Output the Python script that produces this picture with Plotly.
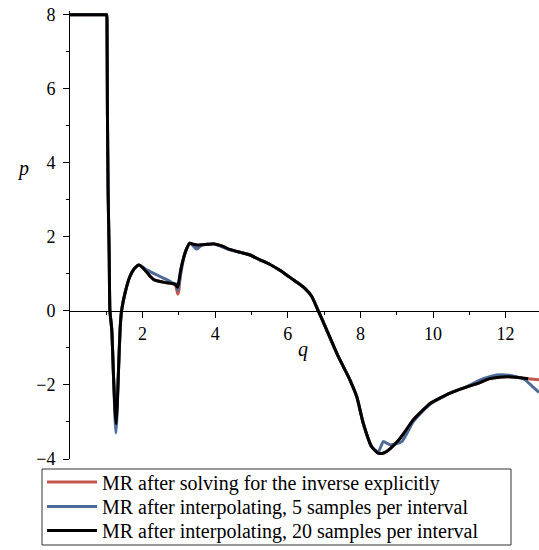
import plotly.graph_objects as go

# Marginal revenue curves p(q) computed three ways
q_explicit = [0, 0.5, 0.98, 1.01, 1.02, 1.03, 1.05, 1.08, 1.10, 1.15, 1.20, 1.24, 1.27, 1.30, 1.34, 1.38, 1.42,
              1.52, 1.65, 1.78, 1.90, 2.0, 2.13, 2.22, 2.30, 2.45, 2.60, 2.75, 2.90, 2.97, 3.0,
              3.05, 3.12, 3.20, 3.30, 3.37, 3.44, 3.52, 3.63, 3.80, 3.97, 4.2, 4.4, 4.7, 4.96,
              5.23, 5.5, 5.69, 5.9, 6.15, 6.3, 6.47, 6.66, 6.84, 7.07, 7.39, 7.71, 7.90, 8.08,
              8.31, 8.49, 8.6, 8.72, 9.0, 9.2, 9.45, 9.7, 9.92, 10.2, 10.47, 10.93, 11.2, 11.57,
              12.03, 12.3, 12.62, 12.92]
p_explicit = [8, 8, 8, 8, 7.6, 5.5, 3.2, 1.5, 0, -0.5, -1.8, -2.5, -2.7, -2.4, -1.5, -0.5, 0,
              0.5, 0.93, 1.15, 1.24, 1.17, 1.03, 0.92, 0.85, 0.80, 0.77, 0.75, 0.70, 0.45, 0.55,
              1.1, 1.40, 1.65, 1.83, 1.80, 1.76, 1.74, 1.78, 1.80, 1.81, 1.75, 1.66, 1.58, 1.51,
              1.38, 1.26, 1.15, 1.02, 0.84, 0.74, 0.61, 0.39, 0, -0.51, -1.23, -1.86, -2.32, -3.04,
              -3.67, -3.84, -3.85, -3.80, -3.55, -3.3, -2.95, -2.7, -2.5, -2.35, -2.22, -2.05, -1.97, -1.83,
              -1.78, -1.79, -1.83, -1.86]

q_five = [0, 0.5, 0.98, 1.01, 1.02, 1.03, 1.05, 1.08, 1.10, 1.15, 1.20, 1.24, 1.265, 1.29, 1.34, 1.38, 1.42,
          1.52, 1.65, 1.78, 1.90, 2.13, 2.48, 2.75, 2.85, 2.95, 2.97, 3.05, 3.12, 3.20, 3.30,
          3.37, 3.49, 3.63, 3.80, 3.97, 4.4, 4.96, 5.23, 5.5, 5.69, 5.9, 6.15, 6.3, 6.47,
          6.66, 6.84, 7.07, 7.39, 7.71, 7.90, 8.08, 8.31, 8.49, 8.63, 8.82, 9.14, 9.45, 9.7,
          9.92, 10.47, 10.93, 11.3, 11.75, 12.1, 12.5, 12.75, 12.92]
p_five = [8, 8, 8, 8, 7.6, 5.5, 3.2, 1.5, 0, -0.5, -1.8, -2.9, -3.3, -2.9, -1.5, -0.5, 0,
          0.5, 0.93, 1.15, 1.24, 1.10, 0.93, 0.80, 0.74, 0.72, 0.55, 1.0, 1.38, 1.65, 1.83,
          1.78, 1.67, 1.78, 1.80, 1.81, 1.65, 1.51, 1.38, 1.26, 1.15, 1.02, 0.84, 0.74, 0.61,
          0.39, 0, -0.51, -1.23, -1.86, -2.32, -3.04, -3.67, -3.82, -3.53, -3.62, -3.53, -3.0, -2.72,
          -2.52, -2.22, -2.05, -1.86, -1.73, -1.74, -1.84, -2.05, -2.2]

q_twenty = [0, 0.5, 0.98, 1.01, 1.02, 1.03, 1.05, 1.08, 1.10, 1.15, 1.20, 1.24, 1.27, 1.30, 1.34, 1.38, 1.42,
            1.52, 1.65, 1.78, 1.90, 2.0, 2.13, 2.22, 2.30, 2.45, 2.60, 2.75, 2.90, 2.96, 2.98,
            3.05, 3.12, 3.20, 3.30, 3.40, 3.52, 3.63, 3.80, 3.97, 4.2, 4.4, 4.7, 4.96,
            5.23, 5.5, 5.69, 5.9, 6.15, 6.3, 6.47, 6.66, 6.84, 7.07, 7.39, 7.71, 7.90, 8.08,
            8.31, 8.49, 8.6, 8.72, 9.0, 9.2, 9.45, 9.7, 9.92, 10.2, 10.47, 10.93, 11.2, 11.57,
            12.03, 12.3, 12.62]
p_twenty = [8, 8, 8, 8, 7.6, 5.5, 3.2, 1.5, 0, -0.5, -1.8, -2.7, -3.05, -2.6, -1.5, -0.5, 0,
            0.5, 0.93, 1.15, 1.24, 1.17, 1.03, 0.92, 0.85, 0.80, 0.77, 0.75, 0.72, 0.64, 0.70,
            1.1, 1.40, 1.65, 1.83, 1.80, 1.78, 1.79, 1.80, 1.81, 1.75, 1.66, 1.58, 1.51,
            1.38, 1.26, 1.15, 1.02, 0.84, 0.74, 0.61, 0.39, 0, -0.51, -1.23, -1.86, -2.32, -3.04,
            -3.67, -3.84, -3.85, -3.80, -3.55, -3.3, -2.95, -2.7, -2.5, -2.35, -2.22, -2.05, -1.97, -1.83,
            -1.78, -1.79, -1.83]

series_names = [
    "MR after solving for the inverse explicitly",
    "MR after interpolating, 5 samples per interval",
    "MR after interpolating, 20 samples per interval",
]
x_ticks = [2, 4, 6, 8, 10, 12]
x_minor = [1, 3, 5, 7, 9, 11, 13]
y_ticks = [-4, -2, 0, 2, 4, 6, 8]
y_minor = [-3, -1, 1, 3, 5, 7]

FONT = "Liberation Serif, Times New Roman, serif"
Y_RANGE = [-4, 8.1]
PLOT_H = 550 - 11 - 91          # plot area height in px
PLOT_BOTTOM = 550 - 91          # plot area bottom edge in px


def paper_y(px):
    return (PLOT_BOTTOM - px) / PLOT_H


def paper_x(px):
    return (px - 70) / 469


fig = go.Figure()
legend_ids = ["legend", "legend2", "legend3"]
for qs, ps, name, color, lg in [
    (q_explicit, p_explicit, series_names[0], "#c4574c", legend_ids[0]),
    (q_five, p_five, series_names[1], "#4d6a98", legend_ids[1]),
    (q_twenty, p_twenty, series_names[2], "#000000", legend_ids[2]),
]:
    fig.add_trace(go.Scatter(
        x=qs, y=ps, mode="lines", name=name, legend=lg,
        line=dict(color=color, width=3, shape="spline", smoothing=0.5),
    ))

# one legend row per series, stacked inside a single framed box
row_px = [482, 506.5, 530.5]
legend_style = dict(
    x=paper_x(42), xanchor="left", yanchor="middle",
    bgcolor="rgba(0,0,0,0)", borderwidth=0,
    font=dict(family=FONT, size=20, color="black"),
    itemwidth=50,
)
legends = {lg: dict(legend_style, y=paper_y(r)) for lg, r in zip(legend_ids, row_px)}

fig.update_layout(
    width=539, height=550,
    margin=dict(l=70, r=0, t=11, b=91, autoexpand=False),
    paper_bgcolor="white", plot_bgcolor="white",
    font=dict(family=FONT, size=18, color="black"),
    showlegend=True,
    **legends,
    xaxis=dict(
        range=[0, 12.92], anchor="free", position=(0 - Y_RANGE[0]) / (Y_RANGE[1] - Y_RANGE[0]),
        showgrid=False, zeroline=False, showline=True, linecolor="black", linewidth=1,
        tickvals=x_ticks, ticks="outside", ticklen=6, tickcolor="black",
        minor=dict(tickvals=x_minor, ticks="outside", ticklen=3, tickcolor="black"),
        tickfont=dict(family=FONT, size=18), ticklabelstandoff=0,
    ),
    yaxis=dict(
        range=Y_RANGE, showgrid=False, zeroline=False, showline=True, linecolor="black", linewidth=1,
        tickvals=y_ticks, ticks="outside", ticklen=6, tickcolor="black",
        minor=dict(tickvals=y_minor, ticks="outside", ticklen=3, tickcolor="black"),
        tickfont=dict(family=FONT, size=18), ticklabelstandoff=4,
    ),
    shapes=[
        dict(type="rect", xref="paper", yref="paper",
             x0=paper_x(42), x1=paper_x(511), y0=paper_y(469), y1=paper_y(545),
             line=dict(color="#333333", width=1), fillcolor="rgba(0,0,0,0)", layer="below"),
    ],
    annotations=[
        dict(text="<i>q</i>", xref="paper", yref="paper", x=0.497, y=0.214,
             showarrow=False, font=dict(family=FONT, size=20)),
        dict(text="<i>p</i>", xref="paper", yref="paper", x=-0.117, y=0.649,
             showarrow=False, font=dict(family=FONT, size=20)),
    ],
)

fig.write_html("out.html")
